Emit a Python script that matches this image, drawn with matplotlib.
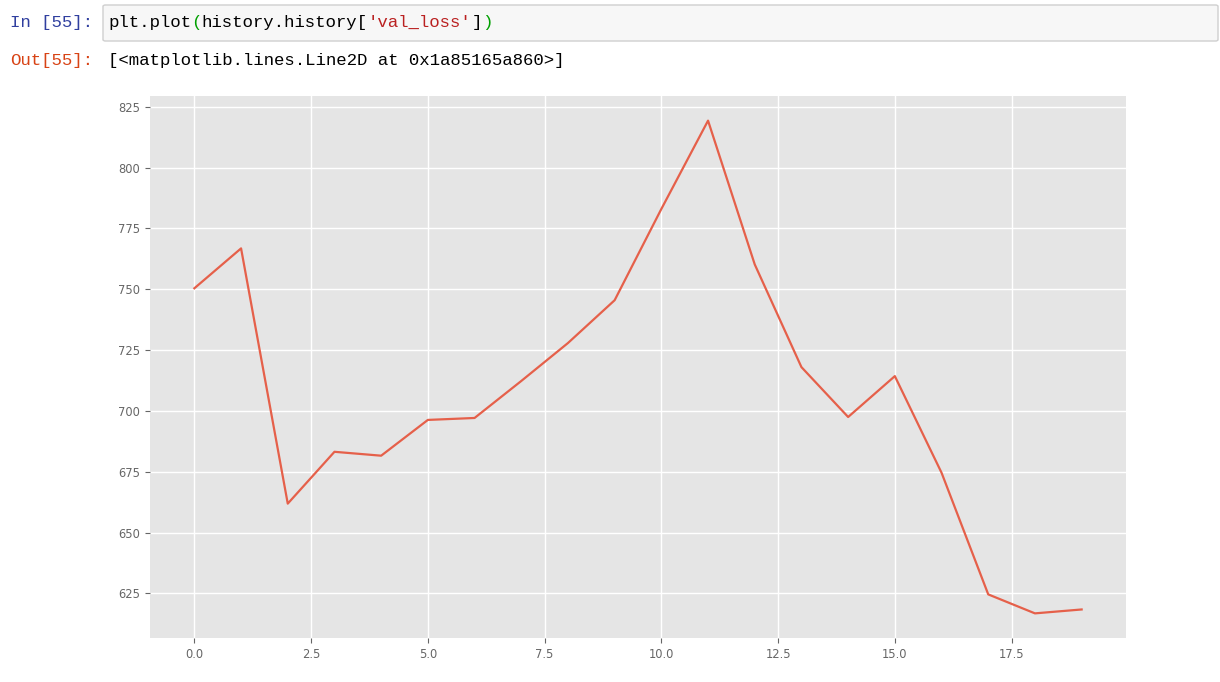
import matplotlib
matplotlib.use("Agg")
import matplotlib.pyplot as plt
from matplotlib.patches import FancyBboxPatch

plt.style.use("ggplot")

epochs = list(range(20))
val_loss = [750.4, 766.8, 661.9, 683.2, 681.6, 696.3, 697.1, 712.3, 727.9, 745.5,
            783.0, 819.3, 760.2, 718.0, 697.5, 714.3, 674.6, 624.6, 616.8, 618.4]

W, H = 1220, 682
fig = plt.figure(figsize=(W / 100, H / 100), dpi=100)
fig.patch.set_facecolor("white")

# notebook header: input cell box
box = FancyBboxPatch((103 / W, 1 - 41 / H), (1218 - 103) / W, 36 / H,
                     boxstyle="round,pad=0,rounding_size=0.002",
                     transform=fig.transFigure, facecolor="#f7f7f7",
                     edgecolor="#cfcfcf", linewidth=1)
fig.patches.append(box)

mono = "Liberation Mono"
fs = 12.5
cw = 10.4  # px per char


def seg_text(x0, y, parts):
    n = 0
    for s, c in parts:
        fig.text((x0 + n * cw) / W, 1 - y / H, s, color=c, fontsize=fs,
                 family=mono, va="center", ha="left")
        n += len(s)


seg_text(10, 22, [("In [55]:", "#303F9F")])
seg_text(108, 22, [("plt.plot", "#000000"), ("(", "#00a000"),
                   ("history.history[", "#000000"), ("'val_loss'", "#BA2121"),
                   ("]", "#000000"), (")", "#00a000")])
seg_text(10, 60, [("Out[55]:", "#D84315")])
seg_text(108, 60, [("[<matplotlib.lines.Line2D at 0x1a85165a860>]", "#000000")])

ax = fig.add_axes([150 / W, 1 - 638 / H, (1126 - 150) / W, (638 - 96) / H])
ax.plot(epochs, val_loss, color="#E5604A", linewidth=1.6)
ax.set_facecolor("#E5E5E5")
ax.grid(True, color="white", linewidth=1.0)
ax.tick_params(axis="both", labelsize=8.3, colors="#666666", length=3.5)
for sp in ax.spines.values():
    sp.set_visible(False)

fig.savefig("out.png", dpi=100, facecolor="white")
